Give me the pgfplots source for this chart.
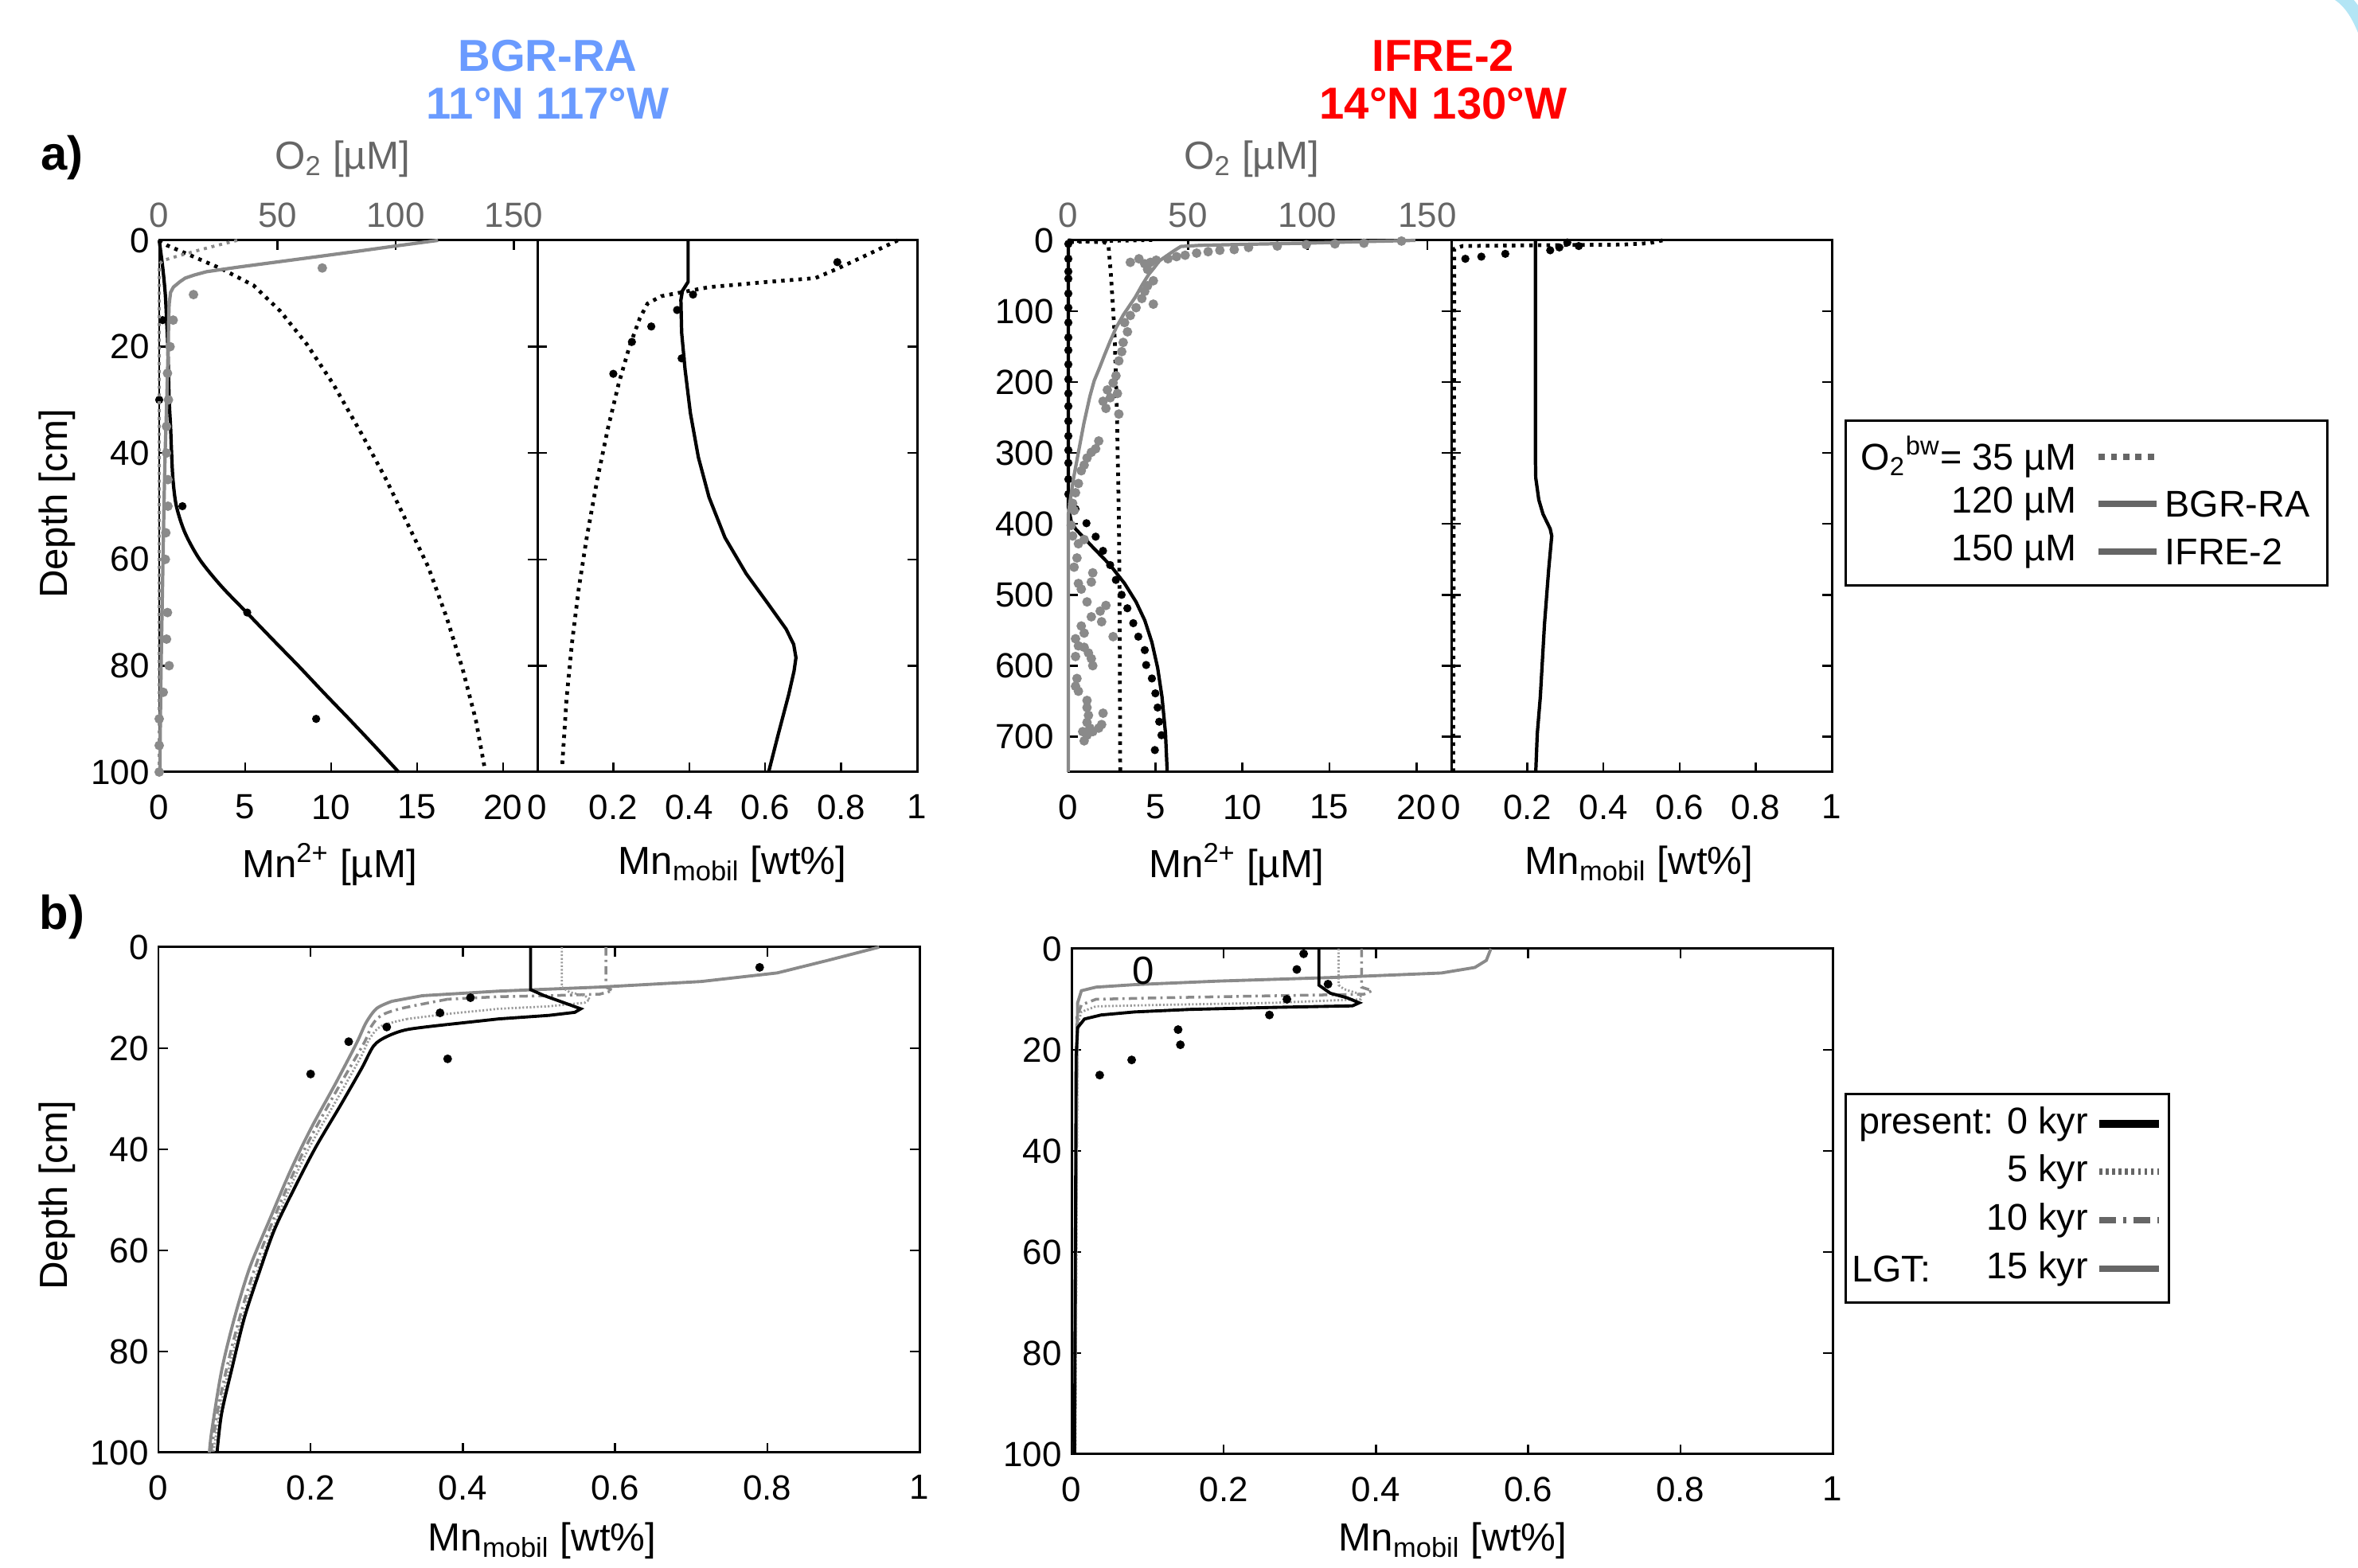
\documentclass[border=0pt]{standalone}
\usepackage{fontspec}
\setmainfont{Liberation Sans}
\usepackage{pgfplots}
\pgfplotsset{compat=1.18}

\definecolor{bgrblue}{HTML}{6A9BFF}
\definecolor{ifrered}{HTML}{FF0000}
\definecolor{otext}{HTML}{666666}
\definecolor{oline}{HTML}{8A8A8A}
\definecolor{odot}{HTML}{8A8A8A}
\definecolor{legray}{HTML}{666666}
\definecolor{dotgray}{HTML}{9A9A9A}
\definecolor{arccyan}{HTML}{B3E5F5}

\newcommand\tfont{\fontsize{12.5}{15}\selectfont}
\newcommand\lfont{\fontsize{14}{17}\selectfont}
\newcommand\gfont{\fontsize{13.3}{16}\selectfont}
\newcommand\hfont{\fontsize{16}{19}\selectfont\bfseries}

\pgfplotsset{
  pan/.style={
    scale only axis, anchor=south west, y dir=reverse, clip=false,
    axis line style={line width=0.85pt},
    tick style={black, line width=0.7pt},
    tick align=inside, major tick length=0.12cm,
    ticklabel style={font=\tfont},
    /pgf/number format/assume math mode=true,
    xticklabel style={yshift=-0.16cm},
  },
  o2ax/.style={
    scale only axis, anchor=south west, y dir=reverse, clip=false,
    axis x line*=top, axis y line=none,
    axis line style={line width=0.85pt},
    tick style={black, line width=0.7pt},
    tick align=inside, major tick length=0.12cm,
    xmin=0, xmax=160, xtick={0,50,100,150},
    ticklabel style={font=\tfont},
    xticklabel style={text=otext, yshift=0.04cm},
    /pgf/number format/assume math mode=true,
  },
  mod/.style={black, line width=1.2pt},
  moddot/.style={black, line width=1.35pt, dash pattern=on 1.25pt off 1.85pt},
  dat/.style={only marks, mark=*, mark size=1.25pt, black},
  odat/.style={only marks, mark=*, mark size=1.5pt, odot},
  b0/.style={black, line width=1.1pt},
  b5/.style={dotgray, line width=0.8pt, dash pattern=on 0.6pt off 0.7pt},
  b10/.style={oline, line width=1.0pt, dash pattern=on 3pt off 1.5pt on 0.8pt off 1.5pt},
  b15/.style={oline, line width=1.1pt},
}

\begin{document}
\begin{tikzpicture}
\useasboundingbox (0,0) rectangle (29.62,19.70);
\draw[arccyan, line width=0.16cm] (29.28,19.82) .. controls (29.50,19.72) and (29.62,19.52) .. (29.72,19.25);

% titles
\node[text=bgrblue] at (6.88,19.00) {\hfont BGR-RA};
\node[text=bgrblue] at (6.88,18.40) {\hfont 11°N 117°W};
\node[text=ifrered] at (18.13,19.00) {\hfont IFRE-2};
\node[text=ifrered] at (18.13,18.40) {\hfont 14°N 130°W};
\node at (0.78,17.72) {\fontsize{17}{20}\selectfont\bfseries a)};
\node at (0.78,8.18) {\fontsize{17}{20}\selectfont\bfseries b)};

% ---------- a) BGR-RA, Mn2+ ----------
\begin{axis}[pan, at={(2.00cm,10.00cm)}, width=4.75cm, height=6.68cm,
  xmin=0, xmax=22, ymin=0, ymax=100,
  xtick={0,5,10,15,20}, ytick={0,20,40,60,80,100}, xtick pos=left]
\addplot[moddot] coordinates {(0,0) (0.43,0.9) (1.66,2.6) (3.66,5.4) (5.5,8.5)
  (7.04,13.3) (8.58,19.5) (10.12,27) (11.81,36.6) (13.19,44.9) (14.42,53.1)
  (15.65,61.4) (16.73,71) (17.65,80.6) (18.42,90.2) (18.95,99.5)};
\addplot[mod, smooth] coordinates {(0,0) (0.2,5) (0.35,10) (0.43,15) (0.5,20)
  (0.58,30) (0.66,35) (0.72,40) (0.8,45) (1.0,50) (1.5,55) (2.35,60) (3.6,65)
  (5.12,70.1) (6.58,75) (8.12,80.1) (9.58,85.1) (11.04,90) (12.5,95) (13.93,100)};
\addplot[dat] coordinates {(0.2,15) (0,30) (1.35,50) (5.12,70) (9.13,90)};
\end{axis}
\begin{axis}[o2ax, at={(2.00cm,10.00cm)}, width=4.75cm, height=6.68cm,
  ymin=0, ymax=100]
\addplot[oline, line width=1.1pt, dash pattern=on 1.1pt off 1.7pt] coordinates {(33,0) (24,1) (15.5,2) (7.5,3) (1.5,3.8) (0,4.5) (0,100)};
\addplot[oline, line width=1.2pt] coordinates {(118,0) (101,1) (84.8,2) (68,3)
  (51,4) (34,5) (27.7,5.4) (20,5.9) (15,6.5) (11,7.1) (8.7,7.8) (6,8.8) (4.8,9.8)
  (4.2,12) (4,15) (3.8,20) (3.2,30) (2.5,40) (2.0,50) (1.6,60) (1.2,70)
  (0.8,80) (0.5,90) (0.3,100)};
\addplot[odat] coordinates {(69,5.2) (14.5,10.2) (5.9,15) (4.6,20) (3.5,25)
  (3.9,30) (3.1,35) (3.1,40) (3.7,45) (3.7,50) (2.8,55) (2.6,60) (3.5,70)
  (3.1,75) (4.2,80) (1.7,85) (0,90) (0,95) (0,100)};
\end{axis}

% ---------- a) BGR-RA, Mn mobil ----------
\begin{axis}[pan, at={(6.75cm,10.00cm)}, width=4.77cm, height=6.68cm,
  xmin=0, xmax=1, ymin=0, ymax=100,
  xtick={0,0.2,0.4,0.6,0.8,1}, ytick={0,20,40,60,80,100}, yticklabels={},
  xtick pos=left]
\addplot[moddot] coordinates {(0.949,0) (0.872,2.6) (0.788,5.4) (0.732,7.1)
  (0.592,7.9) (0.452,8.8) (0.326,10.5) (0.29,11.9) (0.27,14.6) (0.242,20.1)
  (0.214,27) (0.186,35.3) (0.158,44.9) (0.13,55.9) (0.109,65.5) (0.091,75.8)
  (0.077,86.1) (0.065,99.2)};
\addplot[mod] coordinates {(0.397,0) (0.397,7.8) (0.382,9.5) (0.378,11.2)
  (0.380,17.4) (0.389,24.3) (0.403,32.5) (0.424,40.8) (0.452,48.3) (0.494,55.9)
  (0.55,62.7) (0.606,68.2) (0.655,73.1) (0.675,76) (0.681,78.5) (0.676,81)
  (0.662,85.4) (0.634,93) (0.609,100)};
\addplot[dat] coordinates {(0.79,4.1) (0.41,10.2) (0.368,13.1) (0.30,16.2)
  (0.249,19.1) (0.20,25.1) (0.38,22.2)};
\end{axis}

% ---------- a) IFRE-2, Mn2+ ----------
\begin{axis}[pan, at={(13.42cm,10.00cm)}, width=4.81cm, height=6.68cm,
  xmin=0, xmax=22, ymin=0, ymax=750,
  xtick={0,5,10,15,20}, ytick={0,100,200,300,400,500,600,700}, xtick pos=left,
  yticklabel style={xshift=-0.06cm}]
\addplot[moddot] coordinates {(0,0) (1.0,1.5) (2.1,3) (2.3,6) (2.45,50)
  (2.65,129) (2.78,232) (2.9,386) (2.95,541) (2.98,750)};
\addplot[mod] coordinates {(0,0) (0,376) (0.17,397) (0.41,407) (1.41,433)
  (2.4,458) (3.23,484) (3.89,510) (4.39,536) (4.8,567) (5.13,603) (5.38,644)
  (5.58,695) (5.68,750)};
\addplot[dat] coordinates {(0,5) (0,26) (0,44) (0,54) (0,75) (0,95) (0,116)
  (0,137) (0,155) (0,175) (0,196) (0,216) (0,234) (0,255) (0,276) (0,296)
  (0,314) (0,337) (0,358) (0.41,379) (1.04,399) (1.57,418) (1.99,438) (2.4,458)
  (2.73,479) (3.06,500) (3.39,519) (3.73,540) (4.02,559) (4.39,578) (4.47,599)
  (4.8,618) (5.0,639) (5.13,659) (5.22,679) (5.35,698) (4.97,719)};
\end{axis}
\begin{axis}[o2ax, at={(13.42cm,10.00cm)}, width=4.81cm, height=6.68cm,
  ymin=0, ymax=750]
\addplot[black, line width=1.1pt, dash pattern=on 1.1pt off 1.7pt] coordinates {(35,0) (20,1) (8,2) (0,3)};
\addplot[oline, line width=1.2pt] coordinates {(145,0) (120,2) (99,4) (75,5.5)
  (55,7) (47,8.6) (44,15) (41,22) (38,29) (36,38) (33.6,48) (31,62) (28,80)
  (26,90) (23,105) (20,123) (17.5,142) (15.2,161) (13,180) (10.8,198)
  (9,220) (6.5,258) (4.2,299) (2.2,335) (0.8,366) (0,386) (0,750)};
\addplot[odat] coordinates {(139.2,1) (123.5,4) (111.4,5) (99.4,6) (87.3,8)
  (75.3,10) (69.3,13) (63.3,14) (58.4,16) (53.6,18) (48.8,21) (45.2,23)
  (41.6,26) (36.7,28) (34.3,31) (31.9,33) (29.5,26) (25.9,31) (33.1,41)
  (35.5,57) (33.1,64) (31.9,72) (30.7,82) (35.5,90) (28.3,95) (25.9,106)
  (23.5,116) (24.7,129) (22.9,144) (22.3,157) (21.1,170) (19.9,191) (18.7,201)
  (16.3,211) (17.5,222) (14.5,227) (15.7,237) (20.5,216) (21.1,245) (12.7,283)
  (11.4,294) (9.6,299) (7.8,307) (6.6,317) (5.4,325) (4.2,343) (3.0,356)
  (1.8,371) (2.4,381) (1.2,402) (1.8,417) (4.2,428) (6.6,422) (3.6,448)
  (2.4,461) (4.2,484) (5.4,492) (7.8,510) (9.6,482) (10.2,469) (9.6,531)
  (13.3,523) (15.7,515) (13.9,538) (18.7,559) (5.4,544) (6.6,554) (3.0,562)
  (4.2,572) (6.6,574) (8.4,582) (9.6,590) (3.0,587) (10.2,600) (3.6,618)
  (3.0,629) (4.2,636) (7.8,649) (7.8,659) (8.4,670) (7.8,680) (9.0,688)
  (10.2,693) (12.7,688) (14.5,667) (13.9,683) (6.6,706) (7.8,698) (6.0,693)};
\end{axis}

% ---------- a) IFRE-2, Mn mobil ----------
\begin{axis}[pan, at={(18.23cm,10.00cm)}, width=4.78cm, height=6.68cm,
  xmin=0, xmax=1, ymin=0, ymax=750,
  xtick={0,0.2,0.4,0.6,0.8,1}, ytick={0,100,200,300,400,500,600,700},
  yticklabels={}, xtick pos=left]
\addplot[moddot] coordinates {(0.555,0) (0.52,4) (0.45,6) (0.2,7) (0.03,8)
  (0.008,12) (0.005,750)};
\addplot[mod] coordinates {(0.221,0) (0.221,304) (0.222,335) (0.23,366)
  (0.241,386) (0.26,407) (0.264,417) (0.256,464) (0.245,541) (0.234,644)
  (0.226,696) (0.222,750)};
\addplot[dat] coordinates {(0.037,26) (0.079,23) (0.142,19) (0.26,14)
  (0.284,10) (0.305,3) (0.335,8)};
\end{axis}

% axis labels a)
\node at (4.14,8.84) {\lfont Mn\textsuperscript{2+} [µM]};
\node at (9.20,8.84) {\lfont Mn\textsubscript{mobil} [wt\%]};
\node at (15.53,8.84) {\lfont Mn\textsuperscript{2+} [µM]};
\node at (20.59,8.84) {\lfont Mn\textsubscript{mobil} [wt\%]};
\node[text=otext] at (4.30,17.70) {\lfont O\textsubscript{2} [µM]};
\node[text=otext] at (15.72,17.70) {\lfont O\textsubscript{2} [µM]};
\node[rotate=90] at (0.72,13.37) {\lfont Depth [cm]};

% legend a)
\draw[line width=0.85pt] (23.18,12.34) rectangle (29.23,14.41);
\node[anchor=east] at (26.21,13.96) {\gfont O\textsubscript{2}\textsuperscript{bw}= 35 µM};
\node[anchor=east] at (26.21,13.37) {\gfont 120 µM};
\node[anchor=east] at (26.21,12.77) {\gfont 150 µM};
\draw[legray, line width=2.5pt, dash pattern=on 2.2pt off 2.2pt] (26.36,13.96) -- (27.09,13.96);
\draw[legray, line width=2.5pt] (26.36,13.37) -- (27.09,13.37);
\draw[legray, line width=2.5pt] (26.36,12.77) -- (27.09,12.77);
\node[anchor=west] at (27.07,13.37) {\gfont BGR-RA};
\node[anchor=west] at (27.07,12.77) {\gfont IFRE-2};

% ---------- b) BGR-RA ----------
\begin{axis}[pan, at={(1.99cm,1.45cm)}, width=9.56cm, height=6.35cm,
  xmin=0, xmax=1, ymin=0, ymax=100,
  xtick={0,0.2,0.4,0.6,0.8,1}, ytick={0,20,40,60,80,100}]
\addplot[b15] coordinates {(0.947,0) (0.88,2.6) (0.813,5.1) (0.713,6.8)
  (0.58,7.9) (0.447,8.7) (0.347,9.6) (0.307,10.7)};
\addplot[b15, smooth] coordinates {(0.307,10.7) (0.287,12.1) (0.273,14.9)
  (0.26,19.1) (0.233,26.9) (0.2,36) (0.173,44.4) (0.147,53.6) (0.12,63.4)
  (0.1,73.3) (0.083,83.8) (0.07,95.8) (0.067,100)};
\addplot[b10] coordinates {(0.588,0) (0.588,7.9) (0.597,8.6) (0.58,9.3)
  (0.513,9.6) (0.447,9.8) (0.38,10.3)};
\addplot[b10, smooth] coordinates {(0.38,10.3) (0.32,12.1) (0.293,13.5) (0.28,15.6)
  (0.27,19) (0.228,30) (0.192,40) (0.162,50) (0.135,60) (0.113,70) (0.095,80)
  (0.08,90) (0.069,100)};
\addplot[b5] coordinates {(0.53,0) (0.53,7.9) (0.54,8.9) (0.56,9.6)
  (0.567,10.3) (0.56,11) (0.513,11.7) (0.447,12.2) (0.38,13.2) (0.327,14.2)};
\addplot[b5, smooth] coordinates {(0.327,14.2)
  (0.293,15.6) (0.278,18) (0.265,22) (0.235,30) (0.197,40) (0.166,50)
  (0.14,60) (0.117,70) (0.098,80) (0.083,90) (0.072,100)};
\addplot[b0] coordinates {(0.489,0) (0.489,8.4) (0.507,9.6) (0.533,11)
  (0.555,12.2) (0.547,12.9) (0.513,13.5) (0.447,14.2) (0.38,15.3)};
\addplot[b0, smooth] coordinates {(0.38,15.3) (0.327,16.3)
  (0.3,17.7) (0.283,19.5) (0.267,24) (0.24,31.1) (0.207,39.5) (0.18,47.3)
  (0.153,55.7) (0.133,64.1) (0.113,73.3) (0.097,83.1) (0.083,92.3) (0.077,100)};
\addplot[dat, mark size=1.35pt] coordinates {(0.79,4) (0.41,10) (0.37,13)
  (0.30,15.8) (0.25,18.7) (0.2,25.1) (0.38,22.1)};
\end{axis}

% ---------- b) IFRE-2 ----------
\begin{axis}[pan, at={(13.46cm,1.43cm)}, width=9.56cm, height=6.35cm,
  xmin=0, xmax=1, ymin=0, ymax=100,
  xtick={0,0.2,0.4,0.6,0.8,1}, ytick={0,20,40,60,80,100}]
\addplot[b15] coordinates {(0.551,0) (0.545,2.3) (0.53,3.7) (0.486,4.8)
  (0.34,5.7) (0.193,6.4) (0.083,7.1) (0.032,7.6) (0.013,8.3) (0.008,10.7)
  (0.007,21.3) (0.004,100)};
\addplot[b10] coordinates {(0.381,0) (0.381,7.6) (0.395,8.3) (0.384,9)
  (0.266,9.3) (0.12,9.7) (0.032,10) (0.013,11.1) (0.007,13.5) (0.004,100)};
\addplot[b5] coordinates {(0.351,0) (0.351,7.2) (0.358,8) (0.38,9) (0.38,10)
  (0.266,10.7) (0.12,11.1) (0.032,11.4) (0.013,12.5) (0.008,15) (0.005,100)};
\addplot[b0] coordinates {(0.325,0) (0.325,7.2) (0.34,8.8) (0.362,9.7)
  (0.378,10.7) (0.369,11.3) (0.266,11.6) (0.156,12) (0.083,12.5) (0.039,13.1)
  (0.017,13.9) (0.008,15.6) (0.006,21.3) (0.004,100)};
\addplot[dat, mark size=1.35pt] coordinates {(0.305,1) (0.296,4.1) (0.337,7)
  (0.283,10) (0.26,13.1) (0.14,16) (0.143,19) (0.079,22) (0.037,25)};
\node at (axis cs:0.094,4.4) {\lfont 0};
\end{axis}

% axis labels b)
\node at (6.81,0.34) {\lfont Mn\textsubscript{mobil} [wt\%]};
\node at (18.25,0.34) {\lfont Mn\textsubscript{mobil} [wt\%]};
\node[rotate=90] at (0.72,4.68) {\lfont Depth [cm]};

% legend b)
\draw[line width=0.85pt] (23.18,3.33) rectangle (27.24,5.95);
\node[anchor=east] at (26.35,5.58) {\gfont present: 0 kyr};
\node[anchor=east] at (26.35,4.98) {\gfont 5 kyr};
\node[anchor=east] at (26.35,4.37) {\gfont 10 kyr};
\node[anchor=east] at (26.35,3.76) {\gfont 15 kyr};
\node[anchor=west] at (23.14,3.76) {\gfont LGT:};
\draw[black, line width=3pt] (26.37,5.58) -- (27.12,5.58);
\draw[legray, line width=2.5pt, dash pattern=on 1pt off 1.3pt] (26.37,4.98) -- (27.12,4.98);
\draw[legray, line width=2.5pt, dash pattern=on 6pt off 2.5pt on 1.2pt off 2.5pt] (26.37,4.37) -- (27.12,4.37);
\draw[legray, line width=2.5pt] (26.37,3.76) -- (27.12,3.76);
\end{tikzpicture}
\end{document}
